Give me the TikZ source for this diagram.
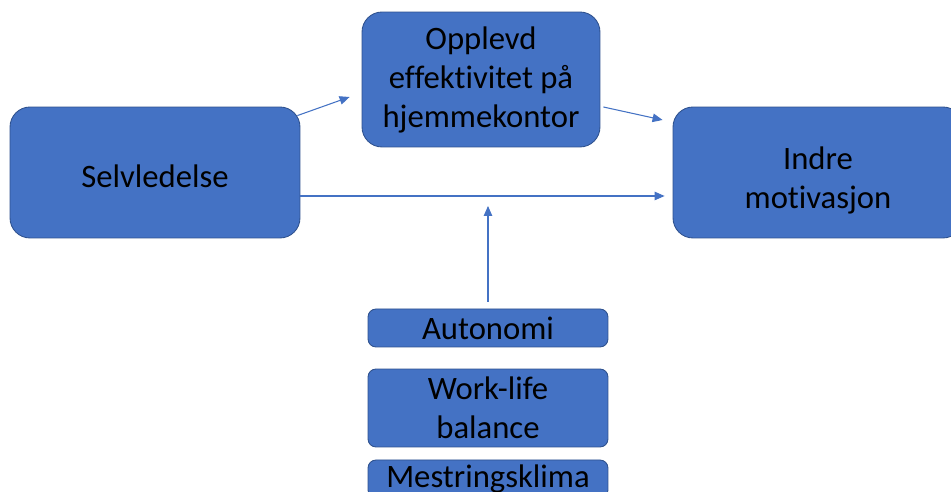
\documentclass[tikz,border=0pt]{standalone}
\usepackage{fontspec}
\setmainfont{Carlito}[Ligatures=NoCommon]
\usepackage{xcolor}
\usetikzlibrary{arrows.meta}
\definecolor{boxblue}{HTML}{4472C4}
\definecolor{boxedge}{HTML}{2F528F}

\tikzset{
  blok/.style={draw=boxedge,line width=0.5pt,fill=boxblue,rounded corners=0.4cm,
    align=center,inner sep=0pt,font=\fontsize{18.6}{22.2}\selectfont},
  smal/.style={blok,rounded corners=0.16cm,minimum width=4.8cm},
  link/.style={-{Triangle[length=0.2cm,width=0.17cm]},boxblue,line width=0.6pt}
}

\begin{document}
\begin{tikzpicture}[x=0.02cm,y=-0.02cm]
  \useasboundingbox[fill=white] (0,0) rectangle (951,492);
  % main boxes
  \node[blok,minimum width=5.8cm,minimum height=2.62cm] (sel) at (155,172.5) {\rule{0pt}{0.6cm}Selvledelse};
  \node[blok,minimum width=4.76cm,minimum height=2.7cm] (opp) at (481,79.5) {Opplevd\\effektivitet på\\hjemmekontor};
  \node[blok,minimum width=5.8cm,minimum height=2.62cm] (indre) at (818,172.5) {\rule{0pt}{0.77cm}Indre\\motivasjon};
  % moderators
  \node[smal,minimum height=0.76cm] (auto) at (488,328) {Autonomi};
  \node[smal,minimum height=1.56cm] (wlb) at (488,408) {Work-life\\balance};
  \node[smal,minimum height=0.76cm] (mest) at (488,479) {Mestringsklima};
  \coordinate (mod) at (488,206);
  % arrows
  \draw[link] ([shift={(-3,9)}]sel.north east) -- ([shift={(-12,17.5)}]opp.west);
  \draw[link] ([shift={(3,27.5)}]opp.east) -- ([shift={(-10,-52.5)}]indre.west);
  \draw[link] ([shift={(0,23.5)}]sel.east) -- ([shift={(-8,23.5)}]indre.west);
  \draw[link] ([shift={(0,-7)}]auto.north) -- (mod);
\end{tikzpicture}
\end{document}
